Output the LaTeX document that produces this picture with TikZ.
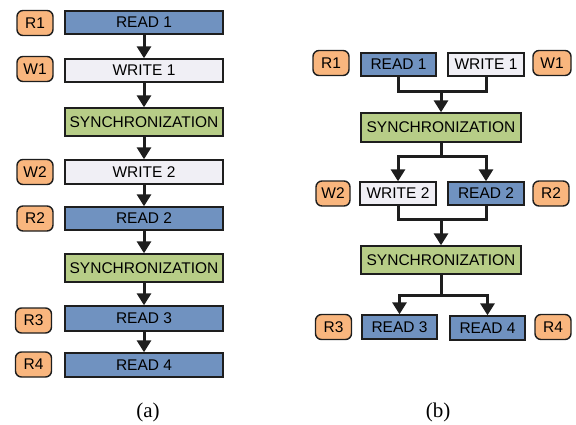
\documentclass[tikz,border=0pt]{standalone}
\usepackage{fontspec}
\setmainfont{Liberation Sans}
\newfontfamily\serifcap{Liberation Serif}
\usetikzlibrary{arrows.meta}
\definecolor{rdblue}{RGB}{112,146,192}
\definecolor{wrgray}{RGB}{240,239,245}
\definecolor{syngreen}{RGB}{183,205,135}
\definecolor{lblorange}{RGB}{249,182,126}
\definecolor{edge}{RGB}{30,30,30}
\tikzset{
  box/.style={draw=edge, line width=1.4pt, rectangle, inner sep=0pt, text=black,
    font=\fontsize{15.5}{17}\selectfont},
  rdbox/.style={box, fill=rdblue},
  wrbox/.style={box, fill=wrgray},
  synbox/.style={box, fill=syngreen},
  tag/.style={draw=edge, line width=1.4pt, rectangle, rounded corners=6pt, fill=lblorange,
    minimum width=36pt, minimum height=25pt, inner sep=0pt, font=\fontsize{15.5}{17}\selectfont},
  conn/.style={draw=edge, line width=3pt},
  arr/.style={conn, -{Triangle[width=14pt,length=12pt]}},
  subcap/.style={font=\serifcap\fontsize{21}{24}\selectfont}
}
\begin{document}
\begin{tikzpicture}[x=1pt,y=-1pt]
\useasboundingbox (0,0) rectangle (576,424);
% ---------- (a) ----------
\node[rdbox, minimum width=158pt, minimum height=23pt] (ar1) at (144,22.5) {READ 1};
\node[wrbox, minimum width=158pt, minimum height=23pt] (aw1) at (144,70.5) {WRITE 1};
\node[synbox, minimum width=158pt, minimum height=28pt] (as1) at (144,122) {SYNCHRONIZATION};
\node[wrbox, minimum width=158pt, minimum height=24pt] (aw2) at (144,172) {WRITE 2};
\node[rdbox, minimum width=158pt, minimum height=23pt] (ar2) at (144,218.5) {READ 2};
\node[synbox, minimum width=158pt, minimum height=28pt] (as2) at (144,268) {SYNCHRONIZATION};
\node[rdbox, minimum width=158pt, minimum height=25pt] (ar3) at (144,318.5) {READ 3};
\node[rdbox, minimum width=158pt, minimum height=24pt] (ar4) at (144,365) {READ 4};
\node[tag] (tr1) at (35,23) {R1};
\node[tag] (tw1) at (35,69) {W1};
\node[tag] (tw2) at (35,172) {W2};
\node[tag] (tr2) at (35,218.5) {R2};
\node[tag] (tr3) at (33.5,320.5) {R3};
\node[tag] (tr4) at (33.5,364.5) {R4};
\draw[arr] (ar1) -- (aw1);
\draw[arr] (aw1) -- (as1);
\draw[arr] (as1) -- (aw2);
\draw[arr] (aw2) -- (ar2);
\draw[arr] (ar2) -- (as2);
\draw[arr] (as2) -- (ar3);
\draw[arr] (ar3) -- (ar4);
\node[subcap] (capa) at (148,412) {(a)};
% ---------- (b) ----------
\node[rdbox, minimum width=75pt, minimum height=23pt] (br1) at (398.5,64.5) {READ 1};
\node[wrbox, minimum width=76pt, minimum height=23pt] (bw1) at (486,64.5) {WRITE 1};
\node[synbox, minimum width=160pt, minimum height=29pt] (bs1) at (441,127.5) {SYNCHRONIZATION};
\node[wrbox, minimum width=76pt, minimum height=23pt] (bw2) at (398,193.5) {WRITE 2};
\node[rdbox, minimum width=76pt, minimum height=23pt] (br2) at (486,193.5) {READ 2};
\node[synbox, minimum width=160pt, minimum height=28pt] (bs2) at (441,260) {SYNCHRONIZATION};
\node[rdbox, minimum width=75pt, minimum height=24pt] (br3) at (399.5,327) {READ 3};
\node[rdbox, minimum width=75pt, minimum height=24pt] (br4) at (487.5,328) {READ 4};
\node[tag] (btr1) at (331,63) {R1};
\node[tag, minimum width=38pt] (btw1) at (552,63) {W1};
\node[tag, minimum width=34pt] (btw2) at (333,193.5) {W2};
\node[tag] (btr2) at (551,193.5) {R2};
\node[tag] (btr3) at (333.5,327) {R3};
\node[tag] (btr4) at (553,327) {R4};
\coordinate (j1) at (441,91);
\coordinate (f1) at (441,156);
\coordinate (j2) at (441,219);
\coordinate (f2) at (441,295);
\draw[conn] (br1.south) |- (j1) -| (bw1.south);
\draw[arr] (j1) -- (bs1.north);
\draw[conn] (bs1.south) -- (f1);
\draw[arr] (f1) -| (bw2.north);
\draw[arr] (f1) -| (br2.north);
\draw[conn] (bw2.south) |- (j2) -| (br2.south);
\draw[arr] (j2) -- (bs2.north);
\draw[conn] (bs2.south) -- (f2);
\draw[arr] (f2) -| (br3.north);
\draw[arr] (f2) -| (br4.north);
\node[subcap] (capb) at (438,412) {(b)};
\end{tikzpicture}
\end{document}
